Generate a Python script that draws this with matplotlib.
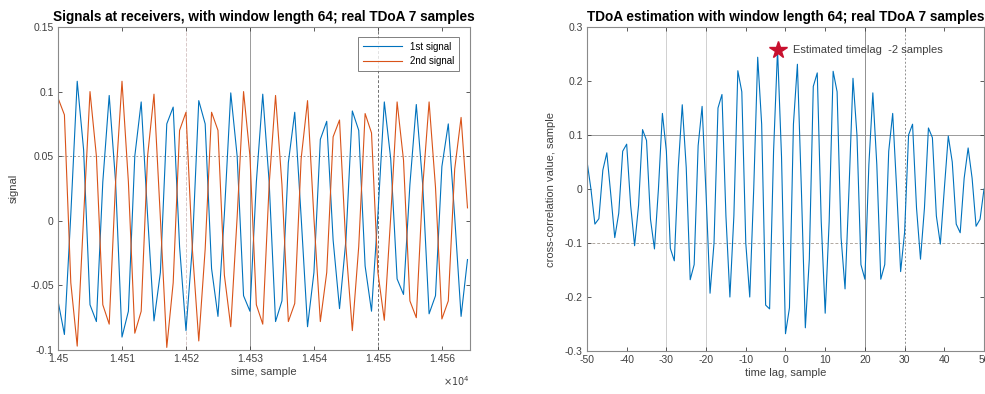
import numpy as np
import matplotlib
matplotlib.use('Agg')
import matplotlib.pyplot as plt
from matplotlib.ticker import FuncFormatter

plt.rcParams['font.family'] = ['Liberation Sans', 'DejaVu Sans']

# ---- left panel: signals at the two receivers (samples 14500..14564) ----
sample_start = 14500
signal_1 = [-0.062, -0.088, 0.005, 0.108, 0.055, -0.065, -0.078, 0.030, 0.097, 0.030,
            -0.090, -0.070, 0.050, 0.092, 0.004, -0.0775, -0.040, 0.075, 0.088, -0.020,
            -0.085, -0.020, 0.093, 0.075, -0.037, -0.074, 0.005, 0.099, 0.050, -0.058,
            -0.070, 0.030, 0.098, 0.030, -0.078, -0.062, 0.045, 0.084, 0.003, -0.082,
            -0.040, 0.063, 0.077, -0.015, -0.068, -0.015, 0.085, 0.070, -0.035, -0.070,
            0.005, 0.092, 0.048, -0.045, -0.057, 0.028, 0.090, 0.028, -0.072, -0.058,
            0.042, 0.075, 0.003, -0.074, -0.030]
signal_2 = [0.095, 0.082, -0.048, -0.097, 0.003, 0.100, 0.050, -0.065, -0.080, 0.030,
            0.108, 0.030, -0.087, -0.070, 0.050, 0.098, 0.002, -0.098, -0.048, 0.070,
            0.084, -0.022, -0.093, -0.022, 0.084, 0.070, -0.042, -0.082, 0.003, 0.100,
            0.050, -0.065, -0.080, 0.028, 0.097, 0.028, -0.078, -0.064, 0.048, 0.093,
            0.002, -0.078, -0.040, 0.065, 0.078, -0.020, -0.085, -0.020, 0.083, 0.068,
            -0.040, -0.077, 0.003, 0.092, 0.047, -0.062, -0.075, 0.026, 0.092, 0.026,
            -0.076, -0.062, 0.040, 0.080, 0.010]

# ---- right panel: cross-correlation for lags -50..50 ----
lag_start = -50
xcorr_vals = [0.052, 0.000, -0.065, -0.055, 0.035, 0.067, -0.010, -0.090, -0.045, 0.070,
              0.083, -0.030, -0.105, -0.030, 0.110, 0.090, -0.056, -0.111, 0.000, 0.140,
              0.070, -0.110, -0.133, 0.040, 0.156, 0.040, -0.168, -0.140, 0.080, 0.153,
              -0.010, -0.193, -0.100, 0.150, 0.175, -0.050, -0.200, -0.050, 0.219, 0.180,
              -0.100, -0.200, 0.000, 0.244, 0.120, -0.215, -0.222, 0.070, 0.258, 0.060,
              -0.268, -0.220, 0.120, 0.231, 0.000, -0.257, -0.130, 0.190, 0.215, -0.060,
              -0.230, -0.060, 0.218, 0.180, -0.090, -0.185, 0.000, 0.205, 0.100, -0.140,
              -0.167, 0.045, 0.178, 0.045, -0.167, -0.140, 0.070, 0.140, 0.000, -0.153,
              -0.080, 0.100, 0.120, -0.035, -0.130, -0.035, 0.113, 0.095, -0.050, -0.102,
              0.000, 0.098, 0.050, -0.065, -0.081, 0.020, 0.076, 0.020, -0.069, -0.056,
              0.000]
est_lag = -2
est_val = 0.258

blue = '#0072BD'
orange = '#D95319'
tick_col = '#404040'


def matlab_style(ax):
    ax.tick_params(direction='in', top=True, right=True, labelsize=7.5,
                   colors=tick_col, length=3, width=0.6, pad=3)
    for sp in ax.spines.values():
        sp.set_color('#8a8a8a')
        sp.set_linewidth(0.8)
    ax.yaxis.set_major_formatter(FuncFormatter(lambda v, p: '%g' % round(v, 4)))


fig = plt.figure(figsize=(9.85, 3.94), dpi=100)

# left
ax1 = fig.add_axes([0.0589, 0.1117, 0.4183, 0.8198])
x1 = np.arange(len(signal_1)) + sample_start
ax1.plot(x1, signal_1, color=blue, lw=0.8, label='1st signal')
ax1.plot(x1, signal_2, color=orange, lw=0.8, label='2nd signal')
ax1.set_xlim(14500, 14564.4)
ax1.set_ylim(-0.1, 0.15)
ax1.set_xticks(np.arange(14500, 14561, 10))
ax1.set_yticks([-0.1, -0.05, 0, 0.05, 0.1, 0.15])
ax1.xaxis.set_major_formatter(FuncFormatter(lambda v, p: '%g' % round(v / 1e4, 4)))
ax1.axvline(14520, color='#d8c8c8', lw=0.7, ls='--', zorder=0)
ax1.axvline(14530, color='#9a9a9a', lw=0.7, zorder=0)
ax1.axvline(14550, color='#707070', lw=0.7, ls=(0, (3, 2)), zorder=0)
ax1.axhline(0.05, color='#a0a0a0', lw=0.7, ls=(0, (2, 2)), zorder=0)
matlab_style(ax1)
ax1.set_title('Signals at receivers, with window length 64; real TDoA 7 samples',
              fontsize=9.8, fontweight='bold', pad=4)
ax1.set_xlabel('sime, sample', fontsize=8, color=tick_col, labelpad=2)
ax1.set_ylabel('signal', fontsize=8, color=tick_col, labelpad=8)
ax1.text(1.0, -0.075, r'$\times10^{4}$', transform=ax1.transAxes, ha='right',
         va='top', fontsize=7, color=tick_col)
leg = ax1.legend(loc='upper right', fontsize=7, frameon=True, fancybox=False,
                 handlelength=4.0, borderpad=0.5, labelspacing=0.5,
                 bbox_to_anchor=(0.985, 0.985))
leg.get_frame().set_edgecolor('#606060')
leg.get_frame().set_linewidth(0.7)

# right
ax2 = fig.add_axes([0.5959, 0.1091, 0.4031, 0.8224])
lags = np.arange(len(xcorr_vals)) + lag_start
ax2.plot(lags, xcorr_vals, color=blue, lw=0.8)
ax2.plot(est_lag, est_val, marker='*', color='#C8102E', markersize=13, ls='none')
ax2.text(est_lag + 4, est_val, 'Estimated timelag  -2 samples', fontsize=8,
         color=tick_col, va='center')
ax2.set_xlim(-50, 50)
ax2.set_ylim(-0.3, 0.3)
ax2.set_xticks(np.arange(-50, 51, 10))
ax2.set_yticks(np.arange(-0.3, 0.31, 0.1))
ax2.xaxis.set_major_formatter(FuncFormatter(lambda v, p: '%g' % v))
ax2.axvline(-30, color='#d0d0d0', lw=0.7, zorder=0)
ax2.axvline(-20, color='#d0d0d0', lw=0.7, zorder=0)
ax2.axvline(20, color='#909090', lw=0.7, zorder=0)
ax2.axvline(30, color='#909090', lw=0.7, ls=(0, (2, 2)), zorder=0)
ax2.axhline(0.1, color='#9a9a9a', lw=0.7, zorder=0)
ax2.axhline(-0.1, color='#b0a8a0', lw=0.7, ls=(0, (3, 2)), zorder=0)
matlab_style(ax2)
ax2.set_title('TDoA estimation with window length 64; real TDoA 7 samples',
              fontsize=9.8, fontweight='bold', pad=4)
ax2.set_xlabel('time lag, sample', fontsize=8, color=tick_col, labelpad=2)
ax2.set_ylabel('cross-correlation value, sample', fontsize=8, color=tick_col,
               labelpad=6)

fig.savefig('out.png', dpi=100)
